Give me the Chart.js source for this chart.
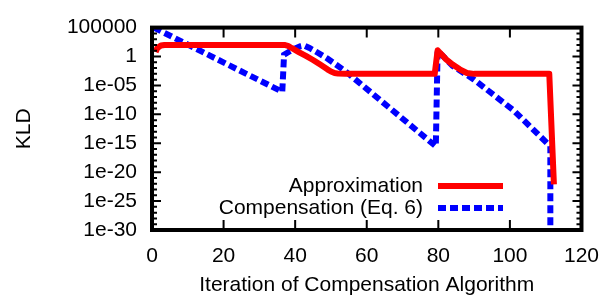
<!DOCTYPE html>
<html>
<head>
<meta charset="utf-8">
<script src="https://cdn.jsdelivr.net/npm/chart.js@4/dist/chart.umd.min.js"></script>
<style>
  html, body { margin: 0; padding: 0; background: #fff; }
  #wrap { width: 613px; height: 302px; }
</style>
</head>
<body>
<div id="wrap"><canvas id="c" width="613" height="302"></canvas></div>
<script>
        // values (y in KLD, log axis)
        const approxX = [1, 1.5, 2.5, 3.5, 37, 38, 39, 41, 43, 45, 47, 49, 50, 51, 52, 54, 79, 79.8, 81, 82, 84, 86, 88, 90, 111, 112.3];
        const approxY = [6, 30, 80, 100, 100, 70, 30, 6, 1.3, 0.25, 0.04, 6e-3, 2.5e-3, 1.4e-3, 1.1e-3, 1e-3, 1e-3, 12, 2, 0.4, 0.04, 6e-3, 1.4e-3, 1e-3, 1e-3, 8e-23];

        const compX = [0.5, 36.4, 36.9, 38.5, 40, 41.5, 42.5, 44, 46, 49, 54, 79.3, 79.8, 84, 90, 101, 111.3, 111.3];
        const compY = [1e5, 8e-7, 2, 8, 25, 60, 80, 30, 6, 0.45, 3e-3, 3e-16, 10, 0.025, 1e-4, 5e-10, 3e-16, 1e-40];

        const seriesNames = ['Approximation', 'Compensation (Eq. 6)'];
        const xTicks = [0, 20, 40, 60, 80, 100, 120];
        const yTicks = [1e5, 1, 1e-5, 1e-10, 1e-15, 1e-20, 1e-25, 1e-30];
        const yTickLabels = ['100000', '1', '1e-05', '1e-10', '1e-15', '1e-20', '1e-25', '1e-30'];

        const FONT = 'Liberation Sans, Arial, Helvetica, sans-serif';

        const toPoints = (xs, ys) => xs.map((x, i) => ({ x: x, y: ys[i] }));

        // gnuplot-like border with inward ticks on all four sides
        const framePlugin = {
            id: 'frame',
            afterDatasetsDraw(chart) {
                const { ctx, chartArea: a, scales } = chart;
                ctx.save();
                ctx.strokeStyle = '#000';
                ctx.lineWidth = 2;
                ctx.beginPath();
                xTicks.forEach(v => {
                    const px = scales.x.getPixelForValue(v);
                    ctx.moveTo(px, a.bottom); ctx.lineTo(px, a.bottom - 10);
                    ctx.moveTo(px, a.top); ctx.lineTo(px, a.top + 10);
                });
                for (let e = -30; e <= 5; e++) {
                    const py = scales.y.getPixelForValue(Math.pow(10, e));
                    const len = (e % 5 === 0) ? 9 : 5;
                    ctx.moveTo(a.left, py); ctx.lineTo(a.left + len, py);
                    ctx.moveTo(a.right, py); ctx.lineTo(a.right - len, py);
                }
                ctx.stroke();
                ctx.lineWidth = 4;
                ctx.strokeRect(a.left, a.top, a.right - a.left, a.bottom - a.top);
                ctx.restore();
            }
        };

        // key in the lower right, text first then the line sample
        const keyPlugin = {
            id: 'key',
            afterDatasetsDraw(chart) {
                const ctx = chart.ctx;
                ctx.save();
                ctx.font = '21px ' + FONT;
                ctx.textAlign = 'right';
                ctx.textBaseline = 'middle';
                ctx.fillStyle = '#000';
                chart.data.datasets.forEach((ds, i) => {
                    const y = 186 + i * 22;
                    ctx.fillText(ds.label, 423, y);
                    ctx.strokeStyle = ds.borderColor;
                    ctx.lineWidth = ds.borderWidth;
                    ctx.setLineDash(ds.borderDash || []);
                    ctx.beginPath();
                    ctx.moveTo(438, y);
                    ctx.lineTo(503, y);
                    ctx.stroke();
                });
                ctx.restore();
            }
        };

        const ctx = document.getElementById('c').getContext('2d');
        const chart = new Chart(ctx, {
            type: 'line',
            data: {
                datasets: [{
                    label: seriesNames[0],
                    data: toPoints(approxX, approxY),
                    borderColor: '#ff0000',
                    borderWidth: 6,
                    borderJoinStyle: 'round',
                    pointRadius: 0,
                    tension: 0,
                    fill: false
                }, {
                    label: seriesNames[1],
                    data: toPoints(compX, compY),
                    borderColor: '#0000ff',
                    borderWidth: 6,
                    borderDash: [8, 4],
                    borderCapStyle: 'butt',
                    pointRadius: 0,
                    tension: 0,
                    fill: false
                }]
            },
            options: {
                responsive: false,
                animation: false,
                devicePixelRatio: 1,
                layout: { padding: { left: 0, right: 23, top: 16, bottom: 0 } },
                plugins: {
                    legend: { display: false },
                    tooltip: { enabled: false }
                },
                scales: {
                    x: {
                        type: 'linear',
                        min: 0,
                        max: 120,
                        grid: { display: false, drawTicks: false },
                        border: { display: false },
                        afterBuildTicks: s => { s.ticks = xTicks.map(v => ({ value: v })); },
                        afterFit: s => { s.height = 72; },
                        ticks: {
                            color: '#000',
                            padding: 14,
                            font: { family: FONT, size: 21 }
                        },
                        title: {
                            display: true,
                            text: 'Iteration of Compensation Algorithm',
                            color: '#000',
                            padding: { top: 0, bottom: 4 },
                            font: { family: FONT, size: 21 }
                        }
                    },
                    y: {
                        type: 'logarithmic',
                        min: 1e-30,
                        max: 1e5,
                        grid: { display: false, drawTicks: false },
                        border: { display: false },
                        afterBuildTicks: s => { s.ticks = yTicks.map(v => ({ value: v })); },
                        afterFit: s => { s.width = 152; },
                        ticks: {
                            color: '#000',
                            padding: 15,
                            font: { family: FONT, size: 21 },
                            callback: (v) => {
                                const i = yTicks.indexOf(v);
                                return i >= 0 ? yTickLabels[i] : '';
                            }
                        },
                        title: {
                            display: true,
                            text: 'KLD',
                            color: '#000',
                            padding: { top: 12, bottom: 0 },
                            font: { family: FONT, size: 21 }
                        }
                    }
                }
            },
            plugins: [framePlugin, keyPlugin]
        });
</script>
</body>
</html>
